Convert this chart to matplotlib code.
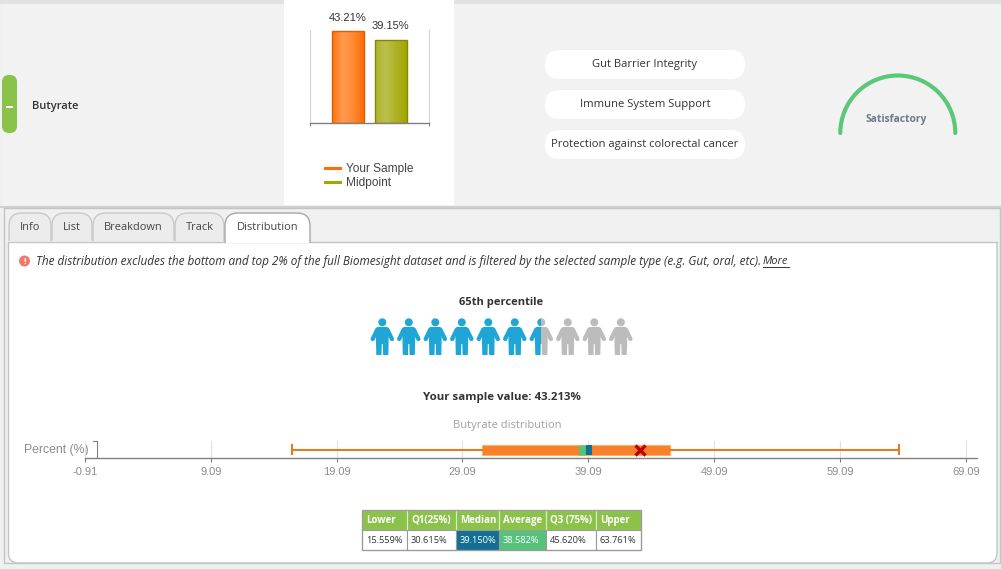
import matplotlib
matplotlib.use("Agg")
import matplotlib.pyplot as plt
import numpy as np
from matplotlib.colors import LinearSegmentedColormap
from matplotlib.lines import Line2D
from matplotlib.patches import Circle, Arc, FancyBboxPatch, Polygon, Rectangle

W, H = 1001, 569
UI = ["Open Sans", "DejaVu Sans"]
CHART = ["Liberation Sans", "DejaVu Sans"]

# data
bar_labels = ["Your Sample", "Midpoint"]
bar_values = [43.21, 39.15]
percentile = 65
sample_value = 43.213
stat_names = ["Lower", "Q1(25%)", "Median", "Average", "Q3 (75%)", "Upper"]
stat_values = [15.559, 30.615, 39.150, 38.582, 45.620, 63.761]
tick_values = [-0.91, 9.09, 19.09, 29.09, 39.09, 49.09, 59.09, 69.09]
benefits = ["Gut Barrier Integrity", "Immune System Support",
            "Protection against colorectal cancer"]
tab_names = ["Info", "List", "Breakdown", "Track", "Distribution"]


def px_axes(x0, y0, x1, y1):
    # axes placed with screen pixels, y counted from the top
    return fig.add_axes([x0 / W, 1 - y1 / H, (x1 - x0) / W, (y1 - y0) / H])


def rounded(x0, y0, x1, y1, r, **kw):
    return FancyBboxPatch((x0 + r, y0 + r), x1 - x0 - 2 * r, y1 - y0 - 2 * r,
                          boxstyle=f"round,pad={r},rounding_size={r}", **kw)


fig = plt.figure(figsize=(W / 100, H / 100), dpi=100, facecolor="#f0f0f0")
page = fig.add_axes([0, 0, 1, 1])
page.set_xlim(0, W)
page.set_ylim(H, 0)
page.axis("off")

# page blocks
page.add_patch(Rectangle((0, 0), W, 4, fc="#e2e2e2", lw=0))
page.add_patch(Rectangle((2, 4), W, 201, fc="#f2f2f2", lw=0))
page.add_patch(Rectangle((284, 0), 170, 205, fc="white", lw=0))
page.add_patch(Rectangle((0, 206), W, 1.5, fc="#d0d0d0", lw=0))
page.add_patch(Rectangle((4, 208), 996, 355, fc="#f0f0f0", ec="#c4c4c4", lw=1))

# row header
page.add_patch(rounded(2, 75, 17, 133, 7, fc="#8bc34a", lw=0))
page.add_patch(Rectangle((6, 106), 7, 2.2, fc="white", lw=0))
page.text(32, 106, "Butyrate", family=UI, fontsize=8.0, color="#333333",
          weight="semibold", va="center")

# benefit pills
for i, name in enumerate(benefits):
    y = 50 + 40 * i
    page.add_patch(rounded(545, y, 745, y + 29, 14.5, fc="white", lw=0))
    page.text(645, y + 14, name, family=UI, fontsize=8.15, color="#333333",
              ha="center", va="center")

# status arc
page.add_patch(Arc((897.8, 133), 115, 115, theta1=180, theta2=360, color="#5ac878",
                   lw=3, capstyle="round"))
page.text(896.5, 119, "Satisfactory", family=UI, fontsize=7.4, weight="bold",
          color="#6c7a8c", ha="center", va="center")

# tabs
tab_edges = [(9, 51), (52, 92), (93, 174), (175, 224), (225, 310)]
for i, (name, (x0, x1)) in enumerate(zip(tab_names, tab_edges)):
    active = i == len(tab_names) - 1
    tab = rounded(x0, 213, x1, 255, 13, fc="white" if active else "#ececec",
                  ec="#a8a8a8" if active else "#c8c8c8", lw=1, zorder=4 if active else 1)
    page.add_patch(tab)
    tab.set_clip_path(Rectangle((0, 205), W, 37.5 if active else 36, transform=page.transData))
    page.text((x0 + x1) / 2, 227.5, name, family=UI, fontsize=7.9, color="#444444",
              ha="center", va="center", zorder=5)

# tab content, square on top and rounded at the bottom
content = rounded(8.5, 225, 997, 563, 10, fc="white", ec="#c4c4c4", lw=1, zorder=3)
page.add_patch(content)
content.set_clip_path(Rectangle((0, 241.5), W, 330, transform=page.transData))
page.plot([8.5, 997], [241.5, 241.5], color="#c4c4c4", lw=1, zorder=3)
page.add_patch(Circle((24.5, 261), 5.5, fc="#f0796b", lw=0, zorder=5))
page.text(24.5, 261, "!", family=UI, fontsize=6.5, weight="bold", color="white",
          ha="center", va="center", zorder=6)
page.text(36, 261.5, "The distribution excludes the bottom and top 2% of the full Biomesight "
          "dataset and is filtered by the selected sample type (e.g. Gut, oral, etc).",
          family=UI, fontsize=8.45, style="italic", color="#333333", va="center", zorder=5)
page.text(763, 261.5, "More", family=UI, fontsize=8.0, style="italic", color="#333333",
          va="center", zorder=5)
page.plot([763, 789], [267, 267], color="#333333", lw=0.7, zorder=5)

page.text(501.5, 302.5, f"{percentile}th percentile", family=UI, fontsize=8.0, weight="bold",
          color="#333333", ha="center", va="center", zorder=5)
page.text(501.5, 397, f"Your sample value: {sample_value:.3f}%", family=UI, fontsize=8.25,
          weight="bold", color="#333333", ha="center", va="center", zorder=5)
page.text(507, 425, "Butyrate distribution", family=UI, fontsize=8.0, color="#a0a0a0",
          ha="center", va="center", zorder=5)


def person(cx, color, clip=None):
    parts = [Circle((cx, 322.3), 4, fc=color, lw=0),
             Polygon([(cx - 5, 327), (cx + 5, 327), (cx + 6.3, 330), (cx + 6.3, 343), (cx + 6, 355),
                      (cx + 0.8, 355), (cx + 0.5, 344), (cx - 0.5, 344), (cx - 0.8, 355), (cx - 6, 355),
                      (cx - 6.3, 343), (cx - 6.3, 330)], fc=color, lw=0)]
    for p in parts:
        p.set_zorder(5)
        page.add_patch(p)
    for sign in (-1, 1):
        parts += page.plot([cx + sign * 5, cx + sign * 9.6], [329.5, 339], color=color, lw=3.1,
                           solid_capstyle="round", zorder=5)
    if clip is not None:
        for p in parts:
            p.set_clip_path(Rectangle((clip[0], 310), clip[1] - clip[0], 60, transform=page.transData))


filled = percentile / 10
for i in range(10):
    cx = 382.3 + 26.5 * i
    if i + 1 <= filled:
        person(cx, "#1ea7d6")
    elif i >= filled:
        person(cx, "#bcbcbc")
    else:
        person(cx, "#1ea7d6", clip=(cx - 15, cx))
        person(cx, "#bcbcbc", clip=(cx, cx + 15))

# stats table
col_x = [362, 407, 455.7, 499, 545.7, 595.7, 640.7]
for i, (name, val) in enumerate(zip(stat_names, stat_values)):
    x0, x1 = col_x[i], col_x[i + 1]
    cell = {"Median": "#136f94", "Average": "#57c27c"}.get(name, "white")
    page.add_patch(Rectangle((x0, 510), x1 - x0, 20, fc="#8bc34a", ec="#dfe8d2", lw=0.8, zorder=5))
    page.add_patch(Rectangle((x0, 530), x1 - x0, 20, fc=cell, ec="#9a9a9a", lw=0.8, zorder=5))
    page.text(x0 + 4, 520.5, name, family=UI, fontsize=7.0, weight="bold", color="white",
              va="center", zorder=6)
    page.text(x0 + 4, 540.5, f"{val:.3f}%", family=UI, fontsize=6.7,
              color="white" if cell != "white" else "#333333", va="center", zorder=6)
page.add_patch(Rectangle((362, 510), 278.7, 40, fc="none", ec="#9a9a9a", lw=0.9, zorder=6))

# bar chart
ax = px_axes(309.5, 30, 428.5, 123.5)
ax.patch.set_alpha(0)
bar_cmaps = [LinearSegmentedColormap.from_list("o", ["#ff7410", "#ff9a4f", "#ff8a33", "#ff6c08"]),
             LinearSegmentedColormap.from_list("g", ["#b0b52e", "#bcc04c", "#aeb126", "#a2a600"])]
bar_edges = ["#e05f00", "#848800"]
bars = ax.bar([0, 1], bar_values, width=0.744, color="none", edgecolor=bar_edges, linewidth=1, zorder=3)
for b, cm, val in zip(bars, bar_cmaps, bar_values):
    im = ax.imshow(np.linspace(0, 1, 32).reshape(1, -1), cmap=cm, aspect="auto", zorder=2,
                   extent=(b.get_x(), b.get_x() + b.get_width(), 0, val))
    im.set_clip_path(b)
    ax.annotate(f"{val:.2f}%", (b.get_x() + b.get_width() / 2, val), xytext=(-0.5, 10), textcoords="offset points",
                ha="center", va="center", family=CHART, fontsize=8, color="#333333", annotation_clip=False)
ax.set_xlim(-0.895, 1.872)
ax.set_ylim(0, 43.9)
ax.set_yticks([])
ax.set_xticks([-0.895, 1.872], ["", ""])
ax.tick_params(axis="x", length=2.5, width=0.8, color="#808080")
for side in ["left", "right"]:
    ax.spines[side].set_color("#d4d4d4")
    ax.spines[side].set_linewidth(0.8)
ax.spines["top"].set_visible(False)
ax.spines["bottom"].set_color("#808080")
ax.spines["bottom"].set_linewidth(1)
ax.legend(handles=[Line2D([], [], color=c, lw=2.2) for c in ["#ff6c08", "#a2a600"]], labels=bar_labels,
          loc="upper left", bbox_to_anchor=(321 / W, 1 - 159.5 / H), bbox_transform=fig.transFigure,
          frameon=False, prop={"family": CHART, "size": 8.6}, labelcolor="#444444",
          handlelength=1.3, handletextpad=0.5, labelspacing=0.2, borderpad=0.3, borderaxespad=0)

# distribution boxplot
dx = px_axes(85.0, 441, 977, 458.2)
dx.patch.set_alpha(0)
dx.set_zorder(6)
lower, q1, med, avg, q3, upper = stat_values
stats = [{"whislo": lower, "q1": q1, "med": med, "q3": q3, "whishi": upper, "fliers": []}]
orange = "#e07c24"
dx.bxp(stats, positions=[0.5], widths=[0.57], orientation="horizontal", patch_artist=True,
       showfliers=False, boxprops=dict(facecolor="#f9802a", edgecolor="#ffb060", linewidth=0.8),
       medianprops=dict(visible=False), whiskerprops=dict(color=orange, linewidth=1.5),
       capprops=dict(color=orange, linewidth=1.5), capwidths=[0.55], zorder=3)
dx.vlines(avg, 0.21, 0.79, color="#57c27c", lw=5, zorder=4)
dx.vlines(med, 0.21, 0.79, color="#136f94", lw=4.4, zorder=5)
dx.plot([sample_value], [0.5], marker="x", ms=7, mew=2.4, color="#c00000", zorder=6)
dx.set_xlim(-0.91, 69.98)
dx.set_ylim(0, 1)
dx.set_yticks([])
dx.set_xticks(tick_values, [f"{t:.2f}" for t in tick_values])
dx.grid(axis="x", color="#e0e0e0", lw=0.8, zorder=1)
dx.tick_params(axis="x", length=3, width=0.8, color="#808080", labelcolor="#8c8c8c", pad=3.5, labelsize=8)
for t in dx.get_xticklabels():
    t.set_family(CHART)
    t.set_clip_on(False)
for side in ["left", "right", "top"]:
    dx.spines[side].set_visible(False)
dx.spines["bottom"].set_color("#808080")
dx.spines["bottom"].set_linewidth(1)
page.plot([92.5, 96.5, 96.5], [441, 441, 458], color="#808080", lw=0.8, zorder=5)
page.text(24, 450, "Percent (%)", family=CHART, fontsize=8.8, color="#8c8c8c", va="center", zorder=5)

fig.savefig("out.png", dpi=100, facecolor=fig.get_facecolor())
